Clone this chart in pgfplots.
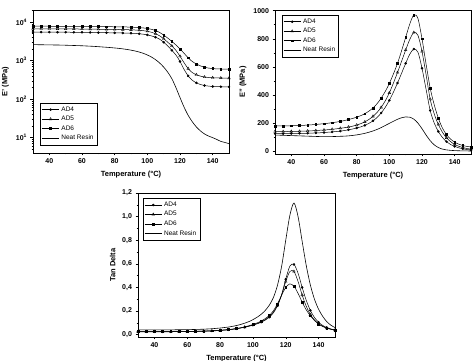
\documentclass[border=0pt]{standalone}
\usepackage{fontspec}
\setmainfont{Liberation Sans}
\usepackage{pgfplots}
\pgfplotsset{compat=1.18}
\usepackage{pgfplotstable}

\pgfplotstableread{
x ad4 ad5 ad6 neat
30 5500 6700 7800 2600
32.5 5500 6700 7800 2590
35 5500 6700 7800 2580
37.5 5500 6700 7800 2570
40 5500 6700 7800 2560
42.5 5490 6690 7790 2550
45 5480 6680 7780 2540
47.5 5470 6670 7770 2530
50 5460 6660 7760 2510
52.5 5450 6650 7750 2490
55 5440 6640 7740 2470
57.5 5430 6620 7720 2450
60 5420 6600 7700 2430
62.5 5400 6580 7690 2400
65 5380 6560 7680 2370
67.5 5360 6540 7660 2340
70 5340 6520 7640 2300
72.5 5320 6500 7620 2260
75 5300 6480 7600 2220
77.5 5280 6460 7580 2180
80 5260 6440 7560 2130
82.5 5240 6420 7530 2080
85 5210 6390 7500 2020
87.5 5180 6350 7460 1950
90 5140 6300 7400 1870
92.5 5080 6230 7320 1780
95 4980 6130 7200 1670
97.5 4850 5990 7050 1550
100 4650 5780 6850 1400
102.5 4380 5450 6500 1240
105 4050 5000 6050 1060
107.5 3600 4400 5400 870
110 3000 3700 4600 680
112.5 2400 3000 3850 500
115 1850 2400 3150 340
117.5 1400 1850 2550 200
120 950 1300 2000 110
122.5 590 880 1550 62
125 400 620 1180 38
127.5 310 490 950 26
130 265 430 820 19
132.5 240 395 730 15
135 225 375 670 12.5
137.5 218 365 640 11
140 213 360 620 10
142.5 211 357 612 9
145 210 355 606 8
147.5 209 352 602 7.5
150 208 350 600 7
}\tabEp

\pgfplotstableread{
x ad4 ad5 ad6 neat
30 125 140 180 115
32.5 125 140 180 114
35 125 140 180 113
37.5 125 140 180 112
40 126 141 181 111
42.5 126 141 182 110
45 127 142 183 109
47.5 127 143 184 108
50 128 144 186 107
52.5 129 145 188 106
55 130 147 190 105
57.5 131 149 193 104
60 133 151 196 104
62.5 135 153 199 104
65 137 156 203 104
67.5 140 159 207 105
70 143 163 212 106
72.5 147 167 218 107
75 152 172 225 109
77.5 158 178 233 112
80 165 186 242 116
82.5 173 196 253 121
85 184 209 267 127
87.5 198 226 285 135
90 216 248 308 144
92.5 240 276 338 155
95 272 312 378 168
97.5 312 358 425 183
100 362 415 482 198
102.5 420 485 550 213
105 485 560 625 227
107.5 555 640 715 238
110 625 720 810 244
112.5 690 795 905 242
115 727 845 970 228
117.5 705 825 945 200
120 590 710 800 160
122.5 440 545 620 115
125 290 370 450 75
127.5 200 265 330 45
130 140 190 235 26
132.5 98 135 165 15
135 68 95 118 9
137.5 48 68 86 6
140 34 48 64 4
142.5 24 35 50 3
145 17 26 40 2
147.5 12 19 34 2
150 8 15 30 1
}\tabEpp

\pgfplotstableread{
x ad4 ad5 ad6 neat
30 0.024 0.025 0.026 0.040
32.5 0.024 0.025 0.026 0.040
35 0.024 0.025 0.026 0.040
37.5 0.024 0.025 0.026 0.040
40 0.024 0.025 0.026 0.040
42.5 0.024 0.025 0.026 0.040
45 0.024 0.025 0.026 0.040
47.5 0.024 0.025 0.026 0.040
50 0.024 0.025 0.026 0.040
52.5 0.025 0.026 0.027 0.041
55 0.025 0.026 0.027 0.041
57.5 0.025 0.026 0.027 0.042
60 0.026 0.027 0.028 0.042
62.5 0.026 0.027 0.028 0.043
65 0.027 0.028 0.029 0.044
67.5 0.028 0.029 0.030 0.045
70 0.029 0.030 0.031 0.046
72.5 0.030 0.031 0.032 0.048
75 0.031 0.032 0.033 0.050
77.5 0.033 0.034 0.035 0.053
80 0.035 0.036 0.037 0.056
82.5 0.038 0.039 0.040 0.060
85 0.041 0.042 0.043 0.064
87.5 0.045 0.046 0.047 0.070
90 0.050 0.051 0.052 0.077
92.5 0.056 0.057 0.058 0.086
95 0.063 0.064 0.066 0.097
97.5 0.071 0.072 0.075 0.110
100 0.080 0.082 0.086 0.127
102.5 0.091 0.094 0.099 0.147
105 0.105 0.108 0.115 0.172
107.5 0.123 0.127 0.136 0.205
110 0.148 0.153 0.163 0.250
112.5 0.185 0.192 0.203 0.315
115 0.245 0.250 0.262 0.420
117.5 0.340 0.335 0.335 0.580
120 0.470 0.450 0.400 0.800
122.5 0.580 0.535 0.430 1.010
125 0.595 0.535 0.410 1.115
127.5 0.520 0.450 0.350 1.000
130 0.400 0.335 0.275 0.790
132.5 0.290 0.240 0.210 0.585
135 0.205 0.170 0.160 0.420
137.5 0.145 0.125 0.120 0.300
140 0.105 0.092 0.090 0.215
142.5 0.078 0.070 0.070 0.155
145 0.060 0.055 0.056 0.110
147.5 0.048 0.045 0.046 0.080
150 0.040 0.038 0.039 0.060
}\tabTan

\pgfplotsset{
  dma/.style={
    scale only axis, width=196pt, height=143pt,
    xmin=30, xmax=150, xtick={40,60,...,140}, minor x tick num=1,
    tick align=outside, tick pos=left,
    axis line style={line width=0.6pt},
    every tick/.style={black, line width=0.5pt},
    major tick length=2.5pt, minor tick length=1.5pt,
    tick label style={font=\fontsize{7}{8}\selectfont\bfseries},
    label style={font=\fontsize{7.5}{9}\selectfont\bfseries},
    xlabel={Temperature (°C)},
    /pgf/number format/assume math mode=true,
    /pgf/number format/1000 sep={},
    legend style={font=\fontsize{6.5}{7.5}\selectfont, draw=black, line width=0.4pt,
      inner sep=1.5pt, row sep=-0.5pt, legend cell align=left},
  },
  ad4/.style={black, line width=0.5pt, smooth, mark=*, mark size=1.0pt, mark repeat=2},
  ad5/.style={black, line width=0.5pt, smooth, mark=triangle, mark size=1.5pt, mark repeat=2, mark options={fill=white, line width=0.4pt}},
  ad6/.style={black, line width=0.5pt, smooth, mark=square*, mark size=0.9pt, mark repeat=2},
  neat/.style={black, line width=0.6pt, smooth, no marks},
}

\begin{document}
\begin{tikzpicture}
\path[use as bounding box] (0pt,0pt) rectangle (474pt,361pt);

\begin{axis}[dma, at={(33pt,208pt)}, anchor=south west, height=142.5pt,
  ymode=log, ymin=4, ymax=20000,
  ytick={10,100,1000,10000},
  yticklabel={10\textsuperscript{\pgfmathparse{int(round(\tick/2.302585))}\pgfmathresult}},
  minor ytick={5,6,7,8,9,20,30,40,50,60,70,80,90,200,300,400,500,600,700,800,900,2000,3000,4000,5000,6000,7000,8000,9000,20000},
  ylabel={E' (MPa)},
  legend style={at={(0.036,0.056)}, anchor=south west}]
\addplot[ad4] table[x=x, y=ad4] {\tabEp};
\addplot[ad5] table[x=x, y=ad5] {\tabEp};
\addplot[ad6] table[x=x, y=ad6] {\tabEp};
\addplot[neat] table[x=x, y=neat] {\tabEp};
\legend{AD4,AD5,AD6,Neat Resin}
\end{axis}

\begin{axis}[dma, at={(275pt,207pt)}, anchor=south west, height=144pt,
  ymin=-20, ymax=1005, ytick={0,200,...,1000}, minor y tick num=1,
  ylabel={E'' (MPa)},
  legend style={at={(0.034,0.965)}, anchor=north west}]
\addplot[ad4] table[x=x, y=ad4] {\tabEpp};
\addplot[ad5] table[x=x, y=ad5] {\tabEpp};
\addplot[ad6] table[x=x, y=ad6] {\tabEpp};
\addplot[neat] table[x=x, y=neat] {\tabEpp};
\legend{AD4,AD5,AD6,Neat Resin}
\end{axis}

\begin{axis}[dma, at={(138pt,24pt)}, anchor=south west, width=197pt, height=144pt,
  ymin=-0.02, ymax=1.2, ytick={0,0.2,...,1.2}, minor y tick num=1,
  yticklabel style={/pgf/number format/.cd, fixed, fixed zerofill, precision=1, use comma},
  ylabel={Tan Delta},
  legend style={at={(0.024,0.963)}, anchor=north west}]
\addplot[ad4] table[x=x, y=ad4] {\tabTan};
\addplot[ad5] table[x=x, y=ad5] {\tabTan};
\addplot[ad6] table[x=x, y=ad6] {\tabTan};
\addplot[neat] table[x=x, y=neat] {\tabTan};
\legend{AD4,AD5,AD6,Neat Resin}
\end{axis}
\end{tikzpicture}
\end{document}
